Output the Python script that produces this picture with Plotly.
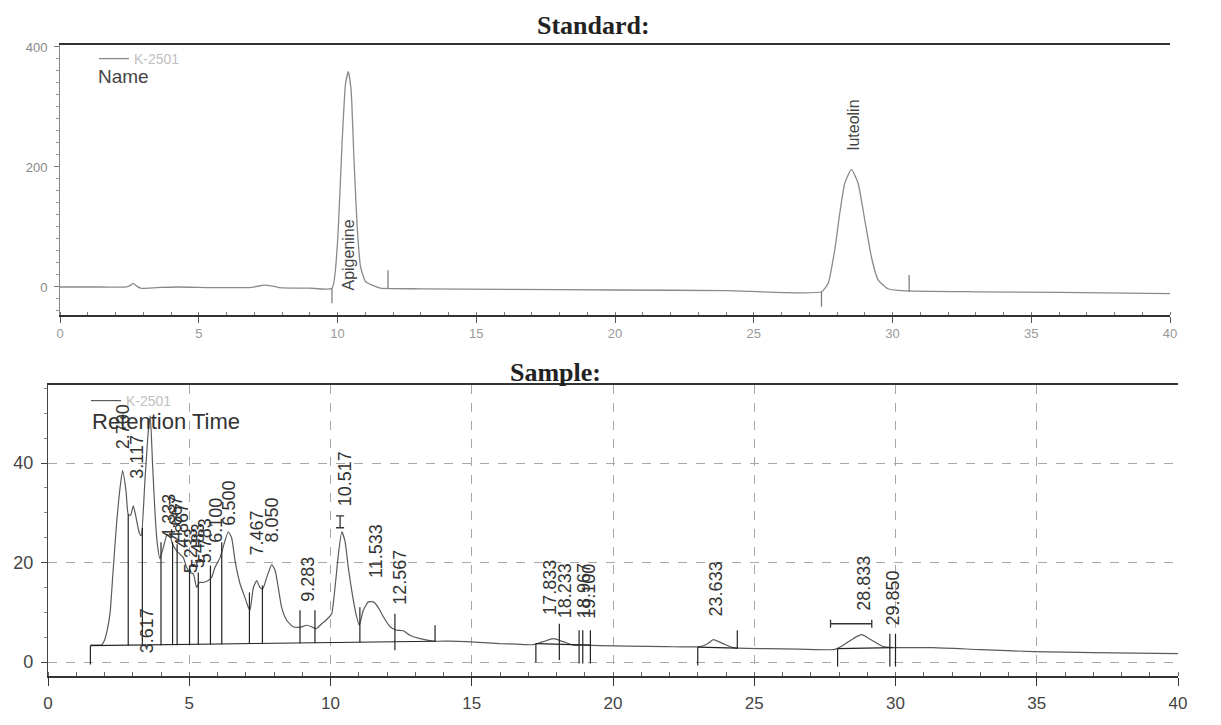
import plotly.graph_objects as go

# the page body adds an 8 px margin; the figure is sized and positioned to compensate
OFF = 8
W, H = 1221 - OFF, 725 - OFF


def px(x):
    return (x - OFF) / W


def py(y):
    return 1 - (y - OFF) / H


# ---------------- Standard chromatogram (top) ----------------
std_time = [0, 1.5, 2.4, 2.55, 2.64, 2.75, 2.9, 3.5, 4.2, 5.5, 6.8, 7.1, 7.35, 7.6, 7.9, 9.0,
            9.8, 9.99, 10.17, 10.29, 10.39, 10.49, 10.59, 10.71, 10.83, 11.01, 11.25, 11.55,
            13, 16, 20, 24, 27.44, 27.68, 27.92, 28.1, 28.28, 28.52, 28.76, 29.0, 29.24, 29.48,
            29.84, 30.3, 33, 36, 40]
std_signal = [0, 0, 0, 3, 6, 2, -2, -1, 0, -1, -1, 1, 3, 2, -1, -2,
              -2, 67, 245, 339, 359, 328, 217, 100, 34, 9, 3, -2,
              -3, -4, -5, -6, -8, 6, 62, 123, 173, 196, 173, 112, 50, 12,
              -3, -6, -8, -9, -11]

std_drop_t = [9.8, 11.82, 27.44, 30.6]
std_drop_lo = [-27, -2, -33, -8]
std_drop_hi = [-2, 28, -8, 20]

std_names = ["Apigenine", "luteolin"]
std_name_t = [10.38, 28.6]
std_name_y = [-10, 225]

# ---------------- Sample chromatogram (bottom) ----------------
smp_time = [1.5, 1.9, 2.0, 2.1, 2.2, 2.3, 2.43, 2.55, 2.64, 2.76, 2.84, 2.92, 3.02, 3.12, 3.23,
            3.30, 3.43, 3.55, 3.62, 3.70, 3.79, 3.87, 3.96, 4.08, 4.22, 4.34, 4.41, 4.55, 4.67,
            4.79, 4.91, 5.03, 5.15, 5.26, 5.36, 5.50, 5.67, 5.79, 5.91, 6.09, 6.23, 6.38, 6.50,
            6.62, 6.80, 6.97, 7.09, 7.15, 7.27, 7.39, 7.50, 7.60, 7.74, 7.92, 8.04, 8.15, 8.27,
            8.45, 8.68, 8.92, 9.16, 9.33, 9.49, 9.69, 9.86, 10.04, 10.16, 10.28, 10.40, 10.51,
            10.63, 10.75, 10.90, 11.02, 11.16, 11.34, 11.52, 11.69, 11.87, 12.11, 12.34, 12.58,
            12.81, 13.17, 13.64, 14.2, 14.82, 15.4, 16.0, 16.6, 17.18, 17.53, 17.89, 18.24, 18.6,
            19.0, 19.54, 20.5, 21.9, 23.08, 23.35, 23.55, 23.9, 24.26, 25.44, 26.6, 27.8, 27.92,
            28.15, 28.5, 28.8, 29.16, 29.57, 29.92, 31.34, 33.0, 34.88, 37.0, 40.0]
smp_signal = [3.4, 3.5, 4.4, 6.5, 10, 18, 28, 35, 38.5, 34.5, 29.7, 29.5, 31.4, 29, 26,
              25.4, 36.4, 46.4, 49.5, 40, 29.7, 23.7, 20.8, 23, 25.7, 25, 23.7, 22.4, 21.7,
              21, 19, 18, 17.7, 15, 16, 16, 16.4, 17, 19, 21, 23.7, 26.2, 25,
              20.4, 15.7, 13, 11, 10.4, 15, 16.4, 15, 14.7, 17, 19.6, 18.4, 15, 11,
              8.4, 7.1, 7, 7.4, 7.1, 6.7, 7.7, 8.5, 9.7, 15, 21.7, 26.2, 24.4,
              19, 14.4, 9.7, 7.4, 10.4, 12.1, 12.1, 11, 9.1, 7.1, 6.4, 6.3,
              5.4, 4.7, 4.2, 4.2, 4.1, 3.9, 3.7, 3.6, 3.5, 4.1, 4.7, 4.1, 3.4,
              3.4, 3.3, 3.2, 3.1, 3.1, 3.7, 4.5, 3.7, 2.9, 2.7, 2.6, 2.5, 2.7,
              3.4, 4.7, 5.5, 4.4, 3.1, 2.9, 2.9, 2.5, 2.1, 1.9, 1.7]

# integration baseline segments (start/end time and level)
base_t0 = [1.5, 17.27, 23.0, 27.95]
base_t1 = [13.7, 19.2, 24.4, 29.9]
base_y0 = [3.3, 3.7, 3.0, 2.7]
base_y1 = [4.2, 3.4, 2.8, 2.9]

# peak drop lines
drop_t = [1.5, 2.84, 3.34, 4.0, 4.41, 4.57, 5.01, 5.32, 5.75, 6.15, 7.13, 7.59, 8.92, 9.45,
          11.04, 12.28, 13.70, 17.27, 18.1, 18.8, 18.93, 19.2, 23.0, 24.4, 27.95, 29.8, 30.0]
drop_lo = [-0.5, 3.3, 3.3, 3.4, 3.4, 3.4, 3.5, 3.5, 3.5, 3.6, 3.7, 3.7, 3.8, 3.8,
           3.9, 2.4, 4.1, -0.1, 0.4, -0.3, -0.3, -0.3, -0.7, 2.7, -0.9, -0.9, -0.9]
drop_hi = [3.3, 29.7, 27.0, 24.1, 24.1, 23.7, 19.0, 18.0, 19.4, 24.1, 14.0, 15.4, 10.4, 10.4,
           11.0, 9.7, 7.4, 3.7, 7.7, 6.4, 6.4, 6.4, 3.0, 6.4, 2.7, 5.7, 5.7]

# I-beam markers
ibeam_v_t, ibeam_v_y, ibeam_v_half = [10.34], [28.2], [1.2]
ibeam_h_t, ibeam_h_y, ibeam_h_half = [28.43], [7.7], [0.73]

peak_labels = ["2.700", "3.117", "3.617", "4.333", "4.667", "4.867", "5.233", "5.483", "5.783",
               "6.100", "6.500", "7.467", "8.050", "9.283", "10.517", "11.533", "12.567",
               "17.833", "18.233", "18.967", "19.100", "23.633", "28.833", "29.850"]
label_t = [2.64, 3.14, 3.49, 4.30, 4.52, 4.72, 5.05, 5.30, 5.55, 5.95, 6.42, 7.41, 7.92, 9.22,
           10.51, 11.63, 12.46, 17.79, 18.28, 18.95, 19.15, 23.65, 28.88, 29.9]
label_y = [42.4, 36.4, 1.4, 24.4, 24.0, 22.5, 17.5, 18.5, 19.5, 23.5, 27.0, 21.0, 23.7, 11.7,
           31.0, 16.4, 11.0, 9.1, 8.4, 8.4, 8.4, 8.7, 10.0, 7.0]

x_ticks = [0, 5, 10, 15, 20, 25, 30, 35, 40]
std_y_ticks = [0, 200, 400]
smp_y_ticks = [0, 20, 40]


def segs(t, lo, hi):
    xs, ys = [], []
    for a, b, c in zip(t, lo, hi):
        xs += [a, a, None]
        ys += [b, c, None]
    return xs, ys


def hsegs(t0, t1, y0, y1):
    xs, ys = [], []
    for a, b, c, d in zip(t0, t1, y0, y1):
        xs += [a, b, None]
        ys += [c, d, None]
    return xs, ys


fig = go.Figure()

fig.add_trace(go.Scatter(x=std_time, y=std_signal, mode="lines", name="K-2501",
                         line=dict(color="#8a8a8a", width=1.3, shape="spline", smoothing=0.5),
                         xaxis="x", yaxis="y", legend="legend"))
dx, dy = segs(std_drop_t, std_drop_lo, std_drop_hi)
fig.add_trace(go.Scatter(x=dx, y=dy, mode="lines", line=dict(color="#777", width=1.2),
                         xaxis="x", yaxis="y", showlegend=False))

fig.add_trace(go.Scatter(x=smp_time, y=smp_signal, mode="lines", name="K-2501",
                         line=dict(color="#5a5a5a", width=1.2, shape="spline", smoothing=0.5),
                         xaxis="x2", yaxis="y3", legend="legend2"))
bx, by = hsegs(base_t0, base_t1, base_y0, base_y1)
fig.add_trace(go.Scatter(x=bx, y=by, mode="lines", line=dict(color="#222", width=1.1),
                         xaxis="x2", yaxis="y3", showlegend=False))
dx, dy = segs(drop_t, drop_lo, drop_hi)
fig.add_trace(go.Scatter(x=dx, y=dy, mode="lines", line=dict(color="#222", width=1.2),
                         xaxis="x2", yaxis="y3", showlegend=False))
fig.add_trace(go.Scatter(x=ibeam_v_t, y=ibeam_v_y, mode="markers", marker=dict(size=0.1, color="#333"),
                         error_y=dict(type="data", array=ibeam_v_half, color="#333", thickness=1.3, width=4),
                         xaxis="x2", yaxis="y3", showlegend=False))
fig.add_trace(go.Scatter(x=ibeam_h_t, y=ibeam_h_y, mode="markers", marker=dict(size=0.1, color="#333"),
                         error_x=dict(type="data", array=ibeam_h_half, color="#333", thickness=1.3, width=4),
                         xaxis="x2", yaxis="y3", showlegend=False))

annotations = []
for txt, t, y in zip(peak_labels, label_t, label_y):
    annotations.append(dict(x=t, y=y, xref="x2", yref="y3", text=txt, showarrow=False,
                            textangle=-90, xanchor="center", yanchor="bottom",
                            font=dict(family="Liberation Sans", size=18, color="#333")))
for txt, t, y in zip(std_names, std_name_t, std_name_y):
    annotations.append(dict(x=t, y=y, xref="x", yref="y", text=txt, showarrow=False,
                            textangle=-90, xanchor="center", yanchor="bottom",
                            font=dict(family="Liberation Sans", size=16, color="#444")))

annotations += [
    dict(x=px(593), y=py(26), xref="paper", yref="paper", text="<b>Standard:</b>",
         xanchor="center", yanchor="middle", showarrow=False,
         font=dict(family="Liberation Serif", size=26, color="#222")),
    dict(x=px(555), y=py(372), xref="paper", yref="paper", text="<b>Sample:</b>",
         xanchor="center", yanchor="middle", showarrow=False,
         font=dict(family="Liberation Serif", size=26, color="#222")),
    dict(x=px(96), y=py(76), xref="paper", yref="paper", text="Name",
         xanchor="left", yanchor="middle", showarrow=False,
         font=dict(family="Liberation Sans", size=19, color="#444")),
    dict(x=px(90), y=py(421), xref="paper", yref="paper", text="Retention Time",
         xanchor="left", yanchor="middle", showarrow=False,
         font=dict(family="Liberation Sans", size=22, color="#333")),
]

axis_common = dict(showgrid=False, zeroline=False, showline=True, ticks="outside", automargin=False)

fig.update_layout(
    width=W, height=H, margin=dict(l=0, r=0, t=0, b=0, pad=0, autoexpand=False),
    paper_bgcolor="white", plot_bgcolor="white",
    font=dict(family="Liberation Sans"),
    annotations=annotations,
    xaxis=dict(domain=[px(60), px(1170)], anchor="y", range=[0, 40], tickvals=x_ticks,
               linecolor="#333", linewidth=1.6, mirror=True, ticklen=6, tickcolor="#555",
               minor=dict(dtick=1, ticks="inside", ticklen=3, tickcolor="#777"),
               tickfont=dict(size=13, color="#999"), **axis_common),
    yaxis=dict(domain=[py(315), py(45)], anchor="x", range=[-46.7, 403.3],
               tickvals=std_y_ticks, linecolor="#888", linewidth=1, ticklen=5, tickcolor="#777",
               minor=dict(dtick=20, ticks="outside", ticklen=3, tickcolor="#999"),
               tickfont=dict(size=13, color="#888"), ticklabelstandoff=4, **axis_common),
    yaxis2=dict(overlaying="y", side="right", anchor="x", range=[-33.8, 422],
                tickvals=std_y_ticks, linecolor="#888", linewidth=1, ticklen=5, tickcolor="#777",
                minor=dict(dtick=20, ticks="outside", ticklen=3, tickcolor="#999"),
                tickfont=dict(size=13, color="#888"), **axis_common),
    xaxis2=dict(domain=[px(48), px(1178)], anchor="y3", range=[0, 40], tickvals=x_ticks,
                linecolor="#333", linewidth=2, mirror=True, ticklen=8, tickcolor="#333",
                showgrid=True, gridcolor="#a8a8a8", griddash="dash", gridwidth=1,
                minor=dict(dtick=1, ticks="inside", ticklen=4, tickcolor="#666"),
                tickfont=dict(size=17, color="#444"), ticklabelstandoff=3,
                zeroline=False, showline=True, ticks="outside", automargin=False),
    yaxis3=dict(domain=[py(676), py(385)], anchor="x2", range=[-2.8, 55.7],
                tickvals=smp_y_ticks, linecolor="#444", linewidth=1.3, ticklen=6, tickcolor="#444",
                showgrid=True, gridcolor="#a8a8a8", griddash="dash", gridwidth=1,
                minor=dict(dtick=5, ticks="outside", ticklen=3, tickcolor="#888"),
                tickfont=dict(size=18, color="#444"), ticklabelstandoff=4,
                zeroline=False, showline=True, ticks="outside", automargin=False),
    yaxis4=dict(overlaying="y3", side="right", anchor="x2", range=[-0.6, 57.6],
                tickvals=smp_y_ticks, linecolor="#333", linewidth=1.3, ticklen=6, tickcolor="#444",
                minor=dict(dtick=2, ticks="outside", ticklen=3, tickcolor="#888"),
                tickfont=dict(size=18, color="#444"), **axis_common),
    legend=dict(x=px(94), y=py(43), xanchor="left", yanchor="top", bgcolor="rgba(0,0,0,0)",
                font=dict(size=14, color="#c0c0c0"), itemwidth=30),
    legend2=dict(x=px(86), y=py(385), xanchor="left", yanchor="top", bgcolor="rgba(0,0,0,0)",
                 font=dict(size=14, color="#c0c0c0"), itemwidth=30),
)

fig.write_html("out.html")
